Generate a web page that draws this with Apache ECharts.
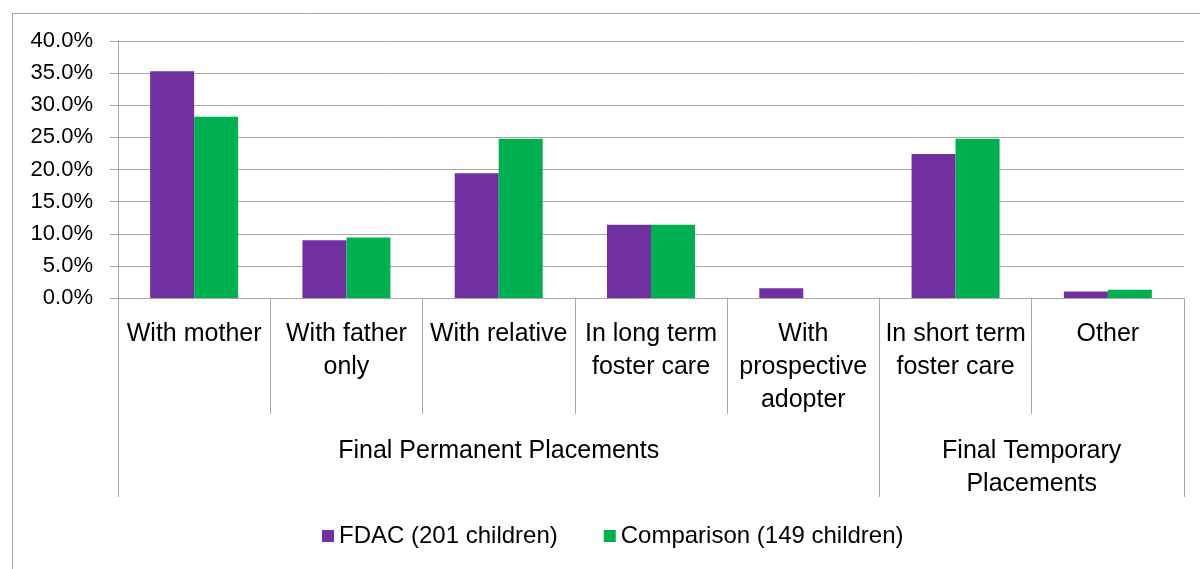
<!DOCTYPE html>
<html>
<head>
<meta charset="utf-8">
<title>Final placements: FDAC vs Comparison</title>
<script src="https://cdn.jsdelivr.net/npm/echarts@6/dist/echarts.min.js"></script>
<style>
  html, body { margin: 0; padding: 0; background: #ffffff; }
  #chart { width: 1200px; height: 569px; }
</style>
</head>
<body>
<div id="chart"></div>
<script>
// Placement categories (lower axis level)
const categories = [
  'With mother',
  'With father\nonly',
  'With relative',
  'In long term\nfoster care',
  'With\nprospective\nadopter',
  'In short term\nfoster care',
  'Other'
];

// Placement groups (upper axis level) and how many categories each spans
const groupNames = ['Final Permanent Placements', 'Final Temporary\nPlacements'];
const groupSpans = [5, 2];

// Percentage of children in each placement
const fdacValues = [35.3, 9.0, 19.4, 11.4, 1.5, 22.4, 1.0];
const comparisonValues = [28.2, 9.4, 24.8, 11.4, 0.0, 24.8, 1.3];

const seriesNames = ['FDAC (201 children)', 'Comparison (149 children)'];

// Y axis ticks
const yMin = 0;
const yMax = 40;
const yStep = 5;

// Group boundaries and label centres, in category units
const groupEdges = [0];
groupSpans.forEach(s => groupEdges.push(groupEdges[groupEdges.length - 1] + s));
const groupCentres = groupSpans.map((s, i) => groupEdges[i] + s / 2);

const FONT = '"Liberation Sans", Arial, sans-serif';
const LINE = '#a6a6a6';
const TEXT = '#000000';

const chart = echarts.init(document.getElementById('chart'), null, { renderer: 'canvas' });

chart.setOption({
  animation: false,
  backgroundColor: '#ffffff',
  textStyle: { fontFamily: FONT },
  graphic: [{
    type: 'rect',
    left: 10,
    top: 11,
    shape: { width: 1200, height: 600 },
    style: { fill: 'none', stroke: LINE, lineWidth: 1 },
    silent: true,
    z: -1
  }],
  grid: {
    left: 118,
    right: 16,
    top: 41,
    bottom: 271,
    containLabel: false
  },
  legend: {
    left: 322,
    top: 524,
    padding: 0,
    icon: 'rect',
    itemWidth: 12,
    itemHeight: 12,
    itemGap: 46,
    textStyle: { fontFamily: FONT, fontSize: 24, color: TEXT },
    data: seriesNames
  },
  xAxis: [
    {
      type: 'category',
      data: categories,
      position: 'bottom',
      boundaryGap: true,
      axisLine: { show: true, lineStyle: { color: LINE, width: 1 } },
      axisTick: { show: true, length: 116, alignWithLabel: false, lineStyle: { color: LINE, width: 1 } },
      axisLabel: {
        interval: 0,
        margin: 20,
        fontFamily: FONT,
        fontSize: 25,
        lineHeight: 33,
        color: TEXT,
        align: 'center'
      },
      splitLine: { show: false }
    },
    {
      type: 'value',
      position: 'bottom',
      min: 0,
      max: categories.length,
      axisLine: { show: false },
      axisTick: {
        show: true,
        customValues: groupEdges,
        length: 199,
        lineStyle: { color: LINE, width: 1 }
      },
      axisLabel: {
        show: true,
        customValues: groupCentres,
        margin: 137,
        fontFamily: FONT,
        fontSize: 25,
        lineHeight: 33,
        color: TEXT,
        align: 'center',
        formatter: function (v) {
          const i = groupCentres.indexOf(v);
          return i >= 0 ? groupNames[i] : '';
        }
      },
      splitLine: { show: false }
    }
  ],
  yAxis: {
    type: 'value',
    min: yMin,
    max: yMax,
    interval: yStep,
    axisLine: { show: true, lineStyle: { color: LINE, width: 1 } },
    axisTick: { show: true, length: 8, lineStyle: { color: LINE, width: 1 } },
    axisLabel: {
      margin: 25,
      fontFamily: FONT,
      fontSize: 22,
      color: TEXT,
      padding: [3, 0, 0, 0],
      formatter: v => v.toFixed(1) + '%'
    },
    splitLine: { show: true, lineStyle: { color: LINE, width: 1 } }
  },
  series: [
    {
      name: seriesNames[0],
      type: 'bar',
      xAxisIndex: 0,
      data: fdacValues,
      barWidth: 44,
      barGap: '0%',
      itemStyle: { color: '#7030a0' }
    },
    {
      name: seriesNames[1],
      type: 'bar',
      xAxisIndex: 0,
      data: comparisonValues,
      barWidth: 44,
      barGap: '0%',
      itemStyle: { color: '#00b050' }
    }
  ]
});
</script>
</body>
</html>
